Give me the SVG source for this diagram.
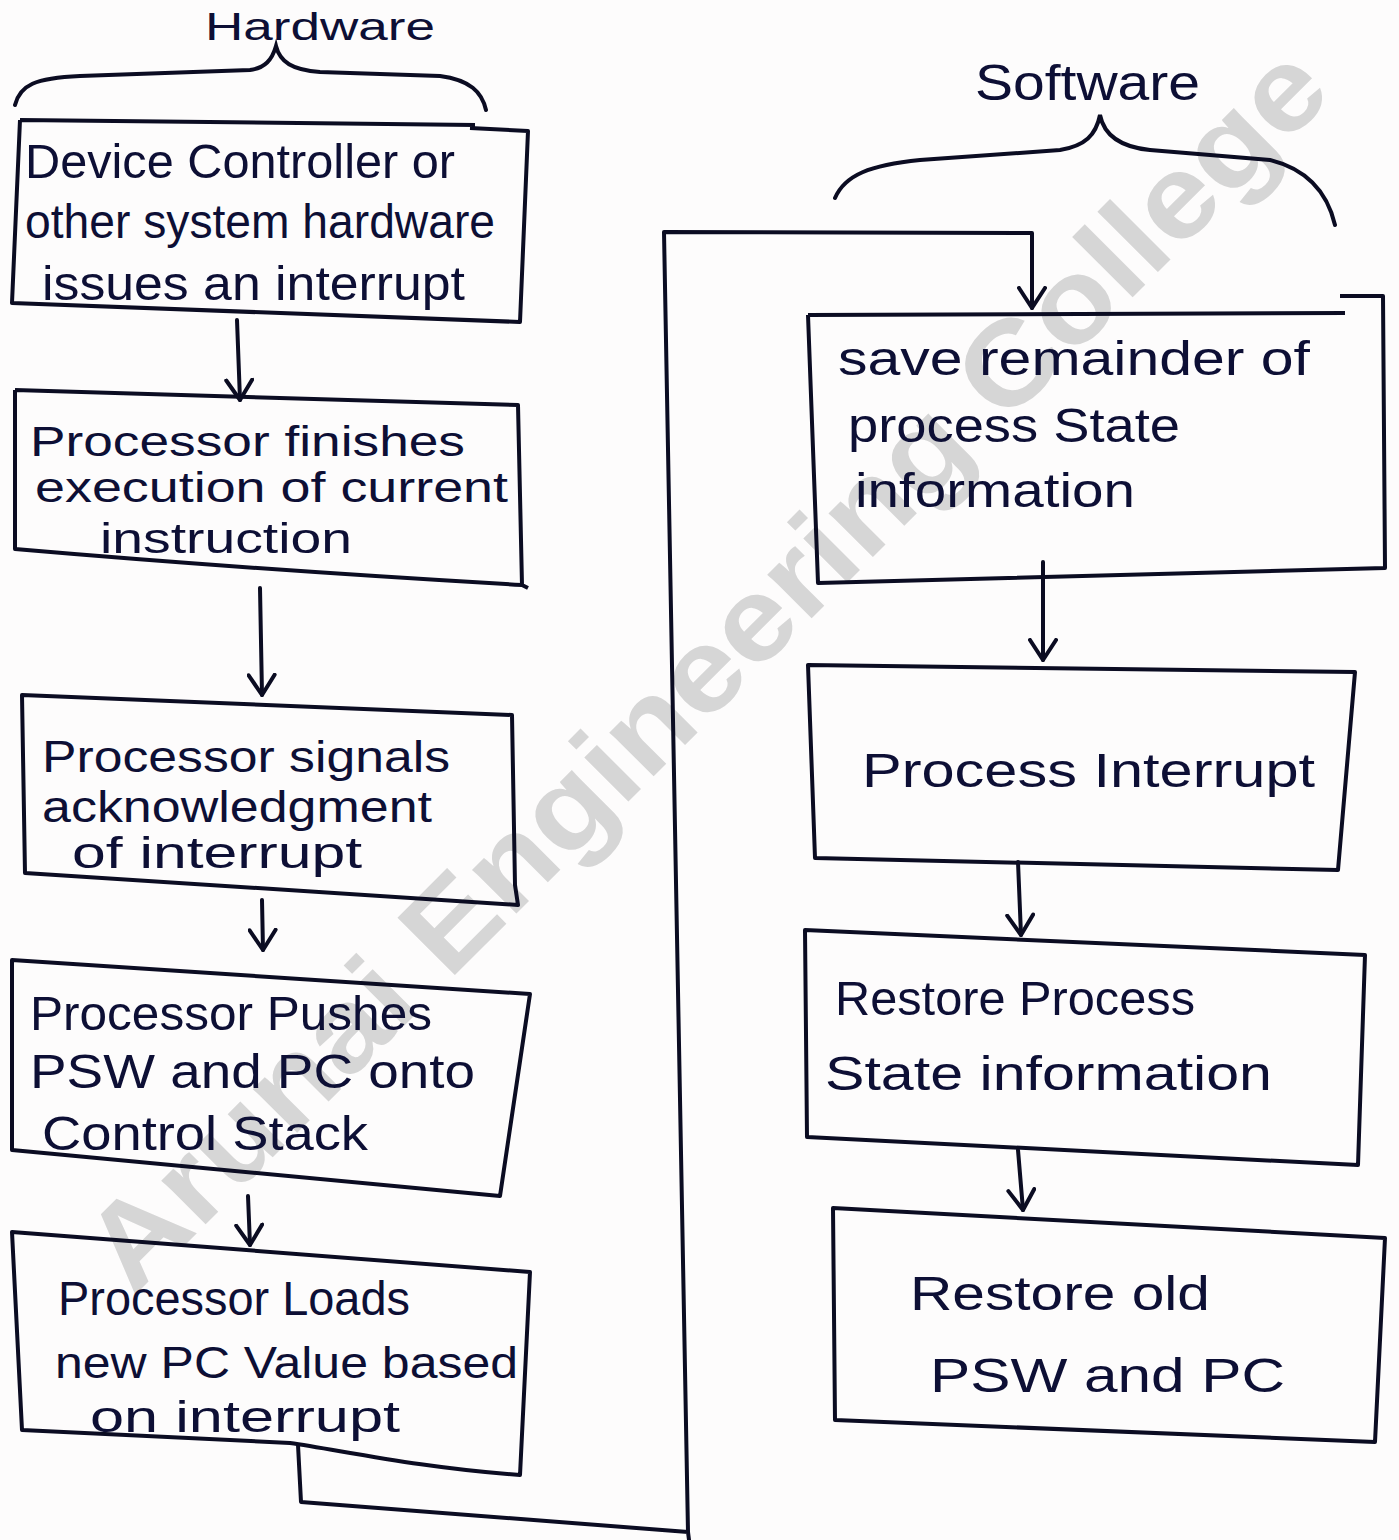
<svg xmlns="http://www.w3.org/2000/svg" width="1399" height="1540" viewBox="0 0 1399 1540">
  <style>
    .box { fill: none; stroke: #0b0c22; stroke-width: 4; stroke-linejoin: round; }
    .wire { fill: none; stroke: #0b0c22; stroke-width: 4; stroke-linecap: round; stroke-linejoin: round; }
    .brace { fill: none; stroke: #0b0c22; stroke-width: 4; stroke-linecap: round; }
    .lbl { font-family: "Liberation Sans", "DejaVu Sans", sans-serif; font-size: 48px; fill: #0d0f35; }
    .tight { font-size: 42px; }
    .mid { font-size: 44px; }
    .head { font-family: "Liberation Sans", "DejaVu Sans", sans-serif; fill: #0d0f35; }
    .mark { font-family: "Liberation Sans", "DejaVu Sans", sans-serif; font-weight: bold; font-size: 118px; fill: #d6d6d6; }
  </style>
  <defs>
    <marker id="vhead" viewBox="0 0 24 30" refX="22" refY="15" markerWidth="24" markerHeight="30" markerUnits="userSpaceOnUse" orient="auto">
      <path d="M2,2 L22,15 L2,28" fill="none" stroke="#0b0c22" stroke-width="4" stroke-linecap="round" stroke-linejoin="round"/>
    </marker>
  </defs>

  <rect width="1399" height="1540" fill="#fdfcfc"/>

  <!-- college watermark behind the drawing -->
  <text class="mark" x="734" y="696" text-anchor="middle" textLength="1700" lengthAdjust="spacingAndGlyphs" transform="rotate(-45 734 696)">Arunai Engineering College</text>

  <!-- column headings with braces -->
  <g id="hardware-heading">
    <text class="head" x="205" y="40" font-size="38" textLength="230" lengthAdjust="spacingAndGlyphs">Hardware</text>
    <path class="brace" d="M15,105 C20,85 35,78 80,76 L250,70 C265,68 272,60 276,46 C280,62 292,70 320,72 L440,76 C470,80 482,92 486,110"/>
  </g>
  <g id="software-heading">
    <text class="head" x="975" y="100" font-size="50" textLength="225" lengthAdjust="spacingAndGlyphs">Software</text>
    <path class="brace" d="M835,198 C845,175 870,165 920,160 L1060,150 C1085,146 1096,135 1100,115 C1104,135 1120,147 1150,150 L1270,160 C1310,170 1328,195 1335,225"/>
  </g>

  <!-- hardware steps -->
  <g id="n-device-controller">
    <path class="box" d="M20,120 L475,125 M470,128 L528,131 L520,322 L12,303 L20,120"/>
    <text class="lbl" x="25" y="178" textLength="430" lengthAdjust="spacingAndGlyphs">Device Controller or</text>
    <text class="lbl" x="25" y="238" textLength="470" lengthAdjust="spacingAndGlyphs">other system hardware</text>
    <text class="lbl" x="42" y="300" textLength="423" lengthAdjust="spacingAndGlyphs">issues an interrupt</text>
  </g>
  <g id="n-finish-instruction">
    <path class="box" d="M15,390 L518,405 L522,585 L528,588 M522,585 C400,578 200,565 15,549 L15,390"/>
    <text class="lbl tight" x="30" y="456" textLength="435" lengthAdjust="spacingAndGlyphs">Processor finishes</text>
    <text class="lbl tight" x="35" y="502" textLength="473" lengthAdjust="spacingAndGlyphs">execution of current</text>
    <text class="lbl tight" x="100" y="553" textLength="252" lengthAdjust="spacingAndGlyphs">instruction</text>
  </g>
  <g id="n-acknowledge">
    <path class="box" d="M22,695 L512,715 L515,885 L518,905 L25,873 Z"/>
    <text class="lbl mid" x="42" y="772" textLength="408" lengthAdjust="spacingAndGlyphs">Processor signals</text>
    <text class="lbl mid" x="42" y="822" textLength="390" lengthAdjust="spacingAndGlyphs">acknowledgment</text>
    <text class="lbl mid" x="72" y="868" textLength="290" lengthAdjust="spacingAndGlyphs">of interrupt</text>
  </g>
  <g id="n-push-psw-pc">
    <path class="box" d="M12,960 L530,994 L500,1196 L12,1150 Z"/>
    <text class="lbl" x="30" y="1030" textLength="402" lengthAdjust="spacingAndGlyphs">Processor Pushes</text>
    <text class="lbl" x="30" y="1088" textLength="445" lengthAdjust="spacingAndGlyphs">PSW and PC onto</text>
    <text class="lbl" x="42" y="1150" textLength="326" lengthAdjust="spacingAndGlyphs">Control Stack</text>
  </g>
  <g id="n-load-new-pc">
    <path class="box" d="M12,1232 L530,1272 L520,1475 C420,1468 340,1450 290,1443 L22,1430 Z"/>
    <text class="lbl" x="58" y="1315" textLength="352" lengthAdjust="spacingAndGlyphs">Processor Loads</text>
    <text class="lbl mid" x="55" y="1378" textLength="463" lengthAdjust="spacingAndGlyphs">new PC Value based</text>
    <text class="lbl mid" x="90" y="1432" textLength="310" lengthAdjust="spacingAndGlyphs">on interrupt</text>
  </g>

  <!-- software steps -->
  <g id="n-save-state">
    <path class="box" d="M808,315 L1345,313 M1340,296 L1383,296 L1385,568 L818,583 L808,315"/>
    <text class="lbl" x="838" y="375" textLength="472" lengthAdjust="spacingAndGlyphs">save remainder of</text>
    <text class="lbl" x="848" y="442" textLength="332" lengthAdjust="spacingAndGlyphs">process State</text>
    <text class="lbl" x="855" y="507" textLength="280" lengthAdjust="spacingAndGlyphs">information</text>
  </g>
  <g id="n-process-interrupt">
    <path class="box" d="M808,665 L1355,672 L1338,870 L815,858 Z"/>
    <text class="lbl" x="862" y="787" textLength="453" lengthAdjust="spacingAndGlyphs">Process Interrupt</text>
  </g>
  <g id="n-restore-state">
    <path class="box" d="M805,930 L1365,955 L1358,1165 L807,1137 Z"/>
    <text class="lbl" x="835" y="1015" textLength="360" lengthAdjust="spacingAndGlyphs">Restore Process</text>
    <text class="lbl" x="825" y="1090" textLength="447" lengthAdjust="spacingAndGlyphs">State information</text>
  </g>
  <g id="n-restore-psw-pc">
    <path class="box" d="M833,1208 L1385,1238 L1375,1442 L835,1420 Z"/>
    <text class="lbl" x="910" y="1310" textLength="300" lengthAdjust="spacingAndGlyphs">Restore old</text>
    <text class="lbl" x="930" y="1392" textLength="355" lengthAdjust="spacingAndGlyphs">PSW and PC</text>
  </g>

  <!-- flow connectors -->
  <g id="connectors">
    <path class="wire" d="M237,320 L240,400" marker-end="url(#vhead)"/>
    <path class="wire" d="M260,588 L262,695" marker-end="url(#vhead)"/>
    <path class="wire" d="M262,900 L263,950" marker-end="url(#vhead)"/>
    <path class="wire" d="M248,1196 L250,1245" marker-end="url(#vhead)"/>
    <!-- loop from the last hardware step over to the first software step -->
    <path class="wire" d="M298,1445 L301,1502 L688,1532 L689,1540 M688,1532 L664,232 L1032,233 L1032,308" marker-end="url(#vhead)"/>
    <path class="wire" d="M1043,562 L1043,660" marker-end="url(#vhead)"/>
    <path class="wire" d="M1018,862 L1021,935" marker-end="url(#vhead)"/>
    <path class="wire" d="M1018,1150 L1023,1210" marker-end="url(#vhead)"/>
  </g>
</svg>
